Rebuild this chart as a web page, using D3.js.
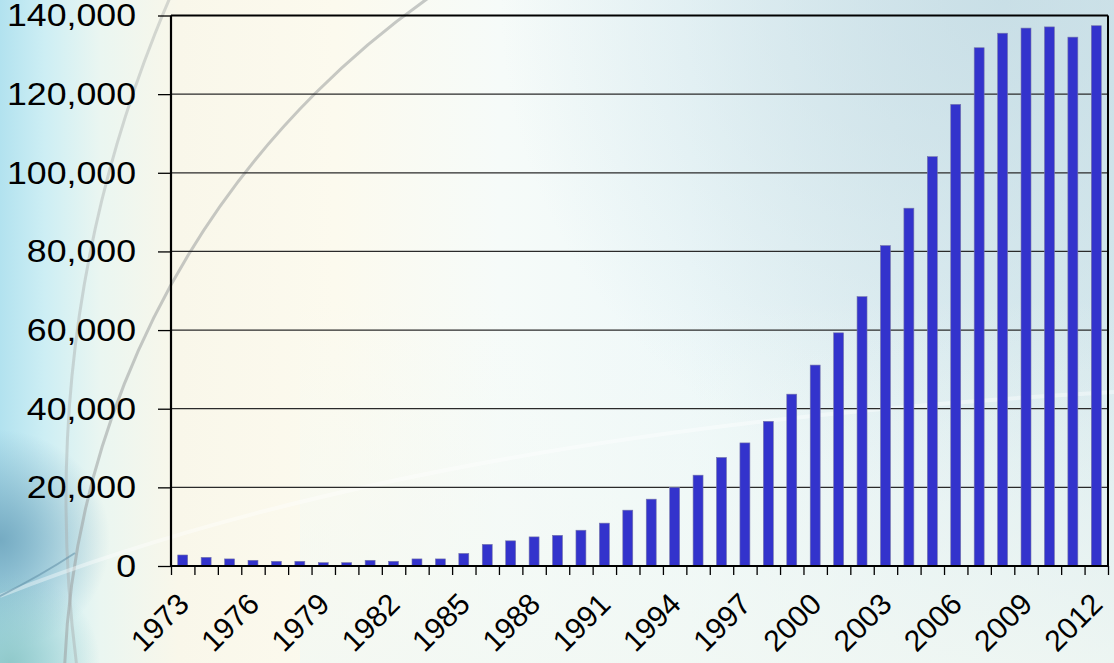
<!DOCTYPE html>
<html>
<head>
<meta charset="utf-8">
<script src="https://cdn.jsdelivr.net/npm/d3@7"></script>
<style>
  html, body { margin: 0; padding: 0; background: #ffffff; }
  svg { display: block; }
  text { font-family: "Liberation Sans", Arial, sans-serif; fill: #000; }
</style>
</head>
<body>
<svg id="chart" width="1114" height="663"></svg>
<script>
// ---- data ----
const years = d3.range(1973, 2013).map(String);
const values = [
  2800, 2200, 1800, 1450, 1200, 1200, 850, 850, 1450, 1200,
  1800, 1800, 3200, 5500, 6400, 7400, 7800, 9100, 10900, 14200,
  17000, 20000, 23100, 27600, 31300, 36800, 43700, 51100, 59300, 68500,
  81500, 91000, 104100, 117400, 131800, 135500, 136800, 137100, 134500, 137400
];
const yTicks = [0, 20000, 40000, 60000, 80000, 100000, 120000, 140000];
const xTickLabels = ["1973","1976","1979","1982","1985","1988","1991","1994","1997","2000","2003","2006","2009","2012"];

const W = 1114, H = 663;
const margin = { left: 171, right: W - 1108, top: 15.5, bottom: H - 566 };
const svg = d3.select("#chart");
const defs = svg.append("defs");

// ---- background ----
const gH = defs.append("linearGradient").attr("id", "bgH").attr("x1", 0).attr("x2", 1).attr("y1", 0).attr("y2", 0);
[[0, "#b2e2ef"], [0.04, "#cdeef4"], [0.09, "#eaf6f1"], [0.16, "#f9f7ea"], [0.3, "#fcfaee"],
 [0.45, "#f6fbf9"], [0.62, "#eef8f9"], [0.8, "#e2f0f3"], [1, "#d8eaee"]]
  .forEach(([o, c]) => gH.append("stop").attr("offset", o).attr("stop-color", c));
svg.append("rect").attr("width", W).attr("height", H).attr("fill", "url(#bgH)");

const gTR = defs.append("radialGradient").attr("id", "bgTR")
  .attr("gradientUnits", "userSpaceOnUse").attr("cx", 1000).attr("cy", 0).attr("r", 500);
gTR.append("stop").attr("offset", 0).attr("stop-color", "#c2dae3").attr("stop-opacity", 0.75);
gTR.append("stop").attr("offset", 1).attr("stop-color", "#c2dae3").attr("stop-opacity", 0);
svg.append("rect").attr("width", W).attr("height", H).attr("fill", "url(#bgTR)");

const gBot = defs.append("linearGradient").attr("id", "bgBot").attr("x1", 0).attr("x2", 0).attr("y1", 0).attr("y2", 1);
gBot.append("stop").attr("offset", 0.45).attr("stop-color", "#f4faf6").attr("stop-opacity", 0);
gBot.append("stop").attr("offset", 1).attr("stop-color", "#f2f8f3").attr("stop-opacity", 0.8);
svg.append("rect").attr("x", 300).attr("width", W - 300).attr("height", H).attr("fill", "url(#bgBot)");

const gBL = defs.append("radialGradient").attr("id", "bgBL")
  .attr("gradientUnits", "userSpaceOnUse").attr("cx", 0).attr("cy", 540).attr("r", 110);
gBL.append("stop").attr("offset", 0).attr("stop-color", "#72a8c0").attr("stop-opacity", 0.95);
gBL.append("stop").attr("offset", 1).attr("stop-color", "#72a8c0").attr("stop-opacity", 0);
svg.append("rect").attr("width", W).attr("height", H).attr("fill", "url(#bgBL)");

const gBL2 = defs.append("radialGradient").attr("id", "bgBL2")
  .attr("gradientUnits", "userSpaceOnUse").attr("cx", 10).attr("cy", 663).attr("r", 90);
gBL2.append("stop").attr("offset", 0).attr("stop-color", "#8cc6c6").attr("stop-opacity", 0.9);
gBL2.append("stop").attr("offset", 1).attr("stop-color", "#8cc6c6").attr("stop-opacity", 0);
svg.append("rect").attr("width", W).attr("height", H).attr("fill", "url(#bgBL2)");

// decorative arcs
svg.append("circle").attr("cx", 922).attr("cy", 700).attr("r", 858)
  .attr("fill", "none").attr("stroke", "#9a9f9f").attr("stroke-opacity", 0.55).attr("stroke-width", 3);
svg.append("circle").attr("cx", 1332).attr("cy", 500).attr("r", 1266)
  .attr("fill", "none").attr("stroke", "#a8aeae").attr("stroke-opacity", 0.45).attr("stroke-width", 3);
svg.append("path").attr("d", "M0,596 Q420,430 1114,392")
  .attr("fill", "none").attr("stroke", "#ffffff").attr("stroke-opacity", 0.4).attr("stroke-width", 4);
svg.append("path").attr("d", "M0,596 Q40,576 75,553")
  .attr("fill", "none").attr("stroke", "#5f8ea6").attr("stroke-opacity", 0.55).attr("stroke-width", 2);

// ---- scales ----
const x = d3.scaleBand().domain(years)
  .range([margin.left, W - margin.right]).paddingInner(0.575).paddingOuter(0.2875);
const xIdx = d3.scaleLinear().domain([0, years.length]).range([margin.left, W - margin.right]);
const y = d3.scaleLinear().domain([0, 140000]).range([H - margin.bottom, margin.top]);

// gridlines
svg.append("g").selectAll("line").data(yTicks.filter(d => d > 0 && d < 140000)).join("line")
  .attr("x1", margin.left).attr("x2", W - margin.right)
  .attr("y1", d => y(d)).attr("y2", d => y(d))
  .attr("stroke", "#2a2a2a").attr("stroke-width", 1.3);

// bars
svg.append("g").selectAll("rect").data(values).join("rect")
  .attr("x", (d, i) => x(years[i]))
  .attr("width", x.bandwidth())
  .attr("y", d => y(d))
  .attr("height", d => y(0) - y(d))
  .attr("fill", "#3333cc")
  .attr("stroke", "#7777aa").attr("stroke-width", 0.6);

// frame (top and right)
svg.append("line").attr("x1", margin.left).attr("x2", W - margin.right)
  .attr("y1", y(140000)).attr("y2", y(140000)).attr("stroke", "#000").attr("stroke-width", 2);
svg.append("line").attr("x1", W - margin.right).attr("x2", W - margin.right)
  .attr("y1", y(140000)).attr("y2", y(0)).attr("stroke", "#000").attr("stroke-width", 2);

// y axis
const yAxis = svg.append("g").attr("transform", `translate(${margin.left},0)`)
  .call(d3.axisLeft(y).tickValues(yTicks).tickSize(13).tickFormat(""));
yAxis.select(".domain").attr("stroke", "#000").attr("stroke-width", 2.2).attr("d", `M0,${y(140000)}V${y(0)}`);
yAxis.selectAll(".tick line").attr("stroke", "#000").attr("stroke-width", 1.3);

const fmt = d3.format(",");
svg.append("g").selectAll("g").data(yTicks).join("g")
  .attr("transform", d => `translate(136,${y(d)})`)
  .append("text")
  .attr("transform", "scale(1.17,1)")
  .attr("text-anchor", "end").attr("dy", "0.36em")
  .style("font-size", "30.5px")
  .text(d => fmt(d));

// x axis
const xAxis = svg.append("g").attr("transform", `translate(0,${y(0)})`)
  .call(d3.axisBottom(xIdx).tickValues(d3.range(0, years.length + 1)).tickSize(9).tickFormat(""));
xAxis.select(".domain").attr("stroke", "#000").attr("stroke-width", 2.2).attr("d", `M${margin.left},0H${W - margin.right}`);
xAxis.selectAll(".tick line").attr("stroke", "#000").attr("stroke-width", 1.3);

svg.append("g").selectAll("text").data(xTickLabels).join("text")
  .attr("transform", d => `translate(${x(d) + x.bandwidth() / 2 + 8},${y(0) + 40}) rotate(-45)`)
  .attr("text-anchor", "end")
  .style("font-size", "30px")
  .text(d => d);
</script>
</body>
</html>
